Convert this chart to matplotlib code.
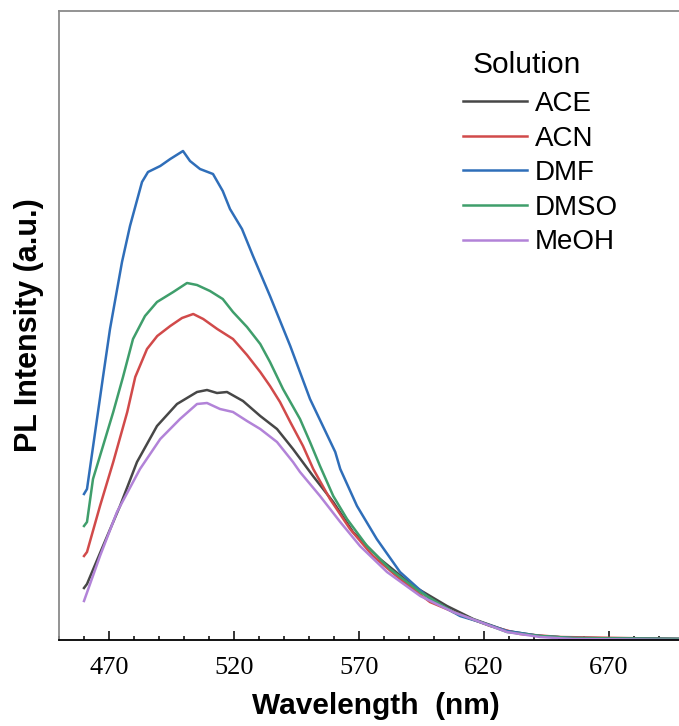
import matplotlib
matplotlib.use("Agg")
import matplotlib.pyplot as plt
from matplotlib.ticker import MultipleLocator

# PL spectra (wavelength in nm, intensity in a.u.)
ace_wl = [460.0, 461.2, 467.6, 474.4, 481.2, 489.2, 497.2, 505.2, 509.2, 513.2, 517.2,
          523.6, 530.5, 537.2, 543.6, 551.6, 559.7, 567.6, 578.4, 591.7, 605.2, 615.7,
          629.2, 642.4, 655.6, 700.0]
ace_int = [52, 56, 94, 134, 178, 214, 236, 248, 250, 247, 248,
           239, 224, 211, 191, 164, 138, 108, 81, 54, 34, 21,
           9, 4, 2, 1]

acn_wl = [460.0, 461.2, 466.4, 471.7, 477.3, 480.5, 485.2, 489.3, 494.5, 499.2, 503.7,
          507.7, 513.3, 519.6, 525.2, 530.5, 534.4, 538.4, 542.5, 547.6, 551.7, 558.4,
          566.4, 575.6, 586.4, 598.4, 611.7, 622.5, 634.4, 650.4, 700.0]
acn_int = [84, 88, 134, 178, 228, 263, 291, 304, 314, 322, 326,
           321, 311, 301, 285, 268, 254, 238, 218, 194, 171, 141,
           111, 84, 61, 38, 24, 14, 6, 3, 1]

dmf_wl = [460.0, 461.2, 467.6, 470.4, 475.2, 478.4, 483.2, 485.6, 490.5, 494.5, 499.6,
          502.4, 506.4, 511.6, 515.5, 518.4, 523.2, 527.6, 534.4, 542.5, 550.4, 560.5,
          562.5, 569.2, 577.1, 586.4, 598.4, 610.4, 618.4, 629.2, 642.4, 655.6, 700.0]
dmf_int = [146, 151, 263, 311, 378, 414, 458, 468, 474, 481, 489,
           479, 471, 466, 449, 431, 411, 384, 344, 294, 241, 188,
           171, 134, 101, 68, 41, 24, 18, 9, 4, 2, 1]

dmso_wl = [460.0, 461.2, 463.6, 467.6, 471.7, 475.6, 479.6, 484.4, 489.2, 495.7, 501.2,
           505.2, 510.4, 515.5, 519.6, 525.2, 530.5, 534.4, 539.6, 546.4, 550.4, 554.4,
           559.7, 565.2, 573.2, 582.4, 594.5, 607.6, 618.4, 629.2, 642.4, 655.6, 700.0]
dmso_int = [114, 118, 161, 194, 228, 263, 301, 324, 338, 348, 357,
            355, 349, 341, 328, 313, 296, 278, 251, 221, 198, 174,
            144, 121, 94, 71, 48, 28, 18, 8, 4, 2, 1]

meoh_wl = [460.0, 466.4, 473.2, 482.4, 490.5, 498.4, 505.2, 509.2, 514.4, 519.6, 525.2,
           530.5, 537.2, 543.6, 546.4, 554.4, 562.5, 570.4, 581.2, 594.5, 607.6, 618.4,
           629.2, 642.4, 655.6, 700.0]
meoh_int = [39, 84, 128, 171, 201, 221, 236, 237, 231, 228, 219,
            211, 198, 178, 168, 144, 118, 94, 68, 44, 28, 18,
            8, 3, 1, 0]

labels = ["ACE", "ACN", "DMF", "DMSO", "MeOH"]
colors = ["#474747", "#d14a4a", "#2f6eb9", "#3f9e6b", "#b283d8"]
xticks = [470, 520, 570, 620, 670]

W, H = 679, 726
fig = plt.figure(figsize=(W / 100, H / 100), dpi=100)
ax = fig.add_axes([59 / W, 86 / H, 625 / W, 629 / H])

series = [(ace_wl, ace_int), (acn_wl, acn_int), (dmf_wl, dmf_int),
          (dmso_wl, dmso_int), (meoh_wl, meoh_int)]
for (wl, inten), lab, col in zip(series, labels, colors):
    ax.plot(wl, inten, color=col, lw=1.8, label=lab)

ax.set_xlim(450, 700)
ax.set_ylim(0, 629)

ax.set_xticks(xticks)
ax.xaxis.set_minor_locator(MultipleLocator(10))
ax.set_yticks([])
ax.tick_params(axis="x", which="major", direction="in", length=6.5, width=1.1,
               pad=12, labelsize=19)
ax.tick_params(axis="x", which="minor", direction="in", length=2.8, width=1.1)
for t in ax.get_xticklabels():
    t.set_fontfamily("Liberation Serif")

ax.spines["top"].set_color("#8a8a8a")
ax.spines["left"].set_color("#8a8a8a")
ax.spines["right"].set_visible(False)
ax.spines["bottom"].set_color("black")
for s in ["top", "left", "bottom"]:
    ax.spines[s].set_linewidth(1.3)

ax.set_xlabel("Wavelength  (nm)", fontsize=21.5, fontweight="bold",
              fontfamily="Liberation Sans")
ax.xaxis.set_label_coords((376 - 59) / 625, -0.0825)
ax.set_ylabel("PL Intensity (a.u.)", fontsize=22, fontweight="bold",
              fontfamily="Liberation Sans")
ax.yaxis.set_label_coords(-0.024, 0.5)

leg = ax.legend(loc="upper left", bbox_to_anchor=(463 / W, 1 - 91 / H),
                bbox_transform=fig.transFigure, frameon=False, borderpad=0,
                borderaxespad=0, handlelength=2.3, handletextpad=0.3,
                labelspacing=0.31, prop={"family": "Liberation Sans", "size": 20})
fig.text(527 / W, 1 - 65 / H, "Solution", ha="center", va="center",
         fontsize=21.5, fontfamily="Liberation Sans")

fig.savefig("out.png", dpi=100)
